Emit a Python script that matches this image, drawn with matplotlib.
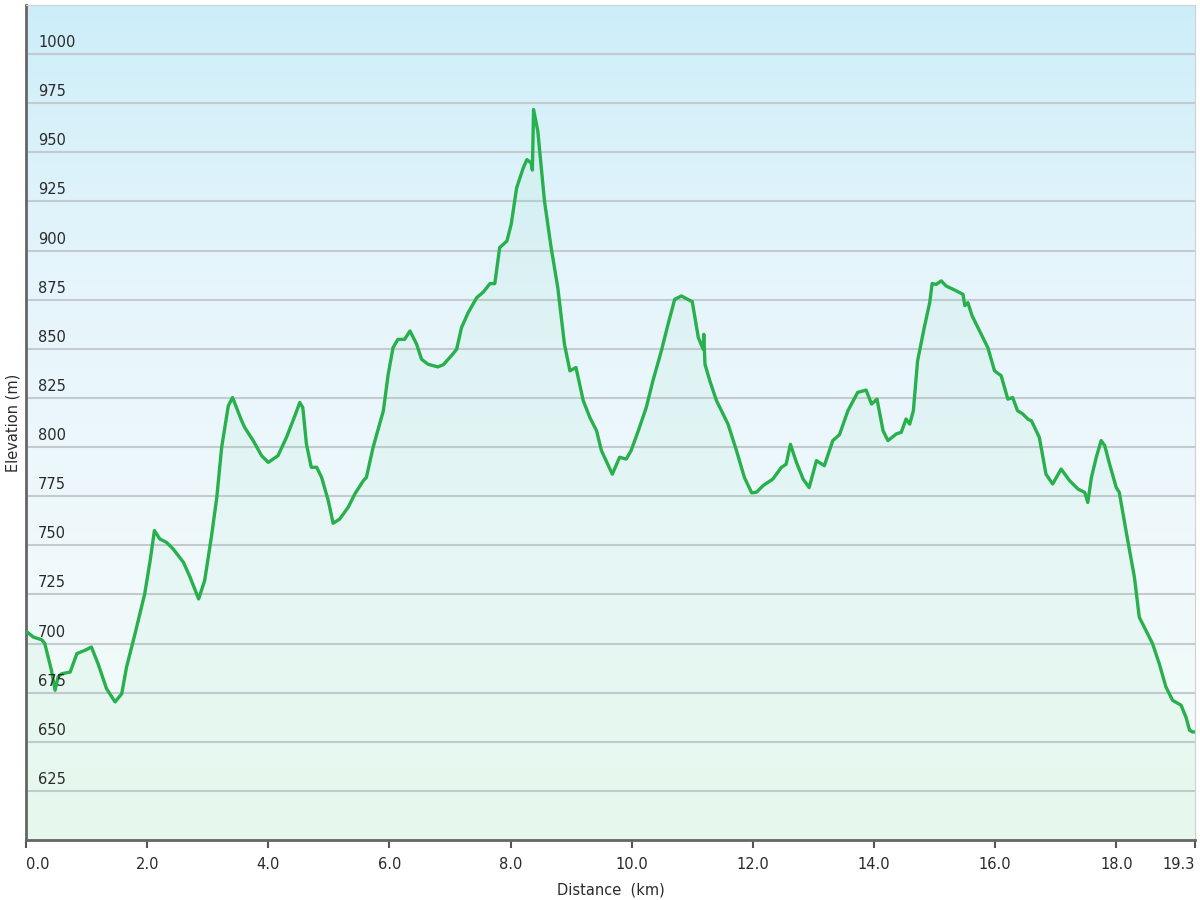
import numpy as np
import matplotlib.pyplot as plt
from matplotlib.colors import LinearSegmentedColormap

# distance along the route (km) and elevation (m)
dist = [0.00, 0.02, 0.12, 0.26, 0.31, 0.42, 0.48, 0.53, 0.59, 0.73, 0.84, 0.97, 1.08,
        1.19, 1.33, 1.47, 1.58, 1.66, 1.80, 1.96, 2.05, 2.12, 2.21, 2.32, 2.43, 2.60,
        2.71, 2.85, 2.95, 3.06, 3.15, 3.23, 3.34, 3.41, 3.56, 3.61, 3.75, 3.89, 4.00,
        4.16, 4.30, 4.44, 4.52, 4.57, 4.63, 4.71, 4.80, 4.88, 4.99, 5.07, 5.18, 5.32,
        5.43, 5.57, 5.62, 5.73, 5.90, 5.98, 6.06, 6.14, 6.25, 6.34, 6.45, 6.53, 6.64,
        6.80, 6.89, 7.02, 7.11, 7.19, 7.30, 7.44, 7.55, 7.66, 7.74, 7.82, 7.94, 8.01,
        8.10, 8.21, 8.27, 8.34, 8.36, 8.38, 8.45, 8.56, 8.67, 8.78, 8.89, 8.98, 9.08,
        9.20, 9.31, 9.42, 9.50, 9.68, 9.80, 9.91, 9.99, 10.10, 10.24, 10.35, 10.49,
        10.60, 10.71, 10.82, 11.00, 11.10, 11.18, 11.19, 11.21, 11.29, 11.40, 11.59,
        11.73, 11.86, 11.98, 12.06, 12.17, 12.33, 12.47, 12.55, 12.62, 12.72, 12.83,
        12.93, 13.05, 13.18, 13.32, 13.43, 13.57, 13.73, 13.87, 13.96, 14.05, 14.15,
        14.23, 14.37, 14.45, 14.53, 14.59, 14.65, 14.72, 14.83, 14.92, 14.96, 15.03,
        15.11, 15.19, 15.36, 15.47, 15.50, 15.55, 15.62, 15.77, 15.88, 15.99, 16.10,
        16.21, 16.29, 16.37, 16.45, 16.55, 16.60, 16.73, 16.84, 16.95, 17.09, 17.23,
        17.37, 17.48, 17.53, 17.59, 17.67, 17.75, 17.81, 17.89, 18.00, 18.05, 18.19,
        18.30, 18.38, 18.49, 18.60, 18.71, 18.82, 18.93, 19.07, 19.15, 19.21, 19.26, 19.30]
elev = [706, 705.8, 703.3, 701.9, 700, 686.4, 676.2, 683, 684.6, 685.5, 694.9, 696.5, 698.2,
        689.7, 677, 670.3, 674.4, 688, 705, 725.3, 742.3, 757.5, 753.2, 751.5, 748.1, 741.3,
        733.7, 722.7, 732.1, 754.1, 774.4, 799.8, 821, 825.2, 813.4, 810, 803.3, 795.6, 792.2,
        795.6, 804.9, 816, 822.7, 820.1, 801.5, 789.7, 789.7, 784.6, 772.8, 761.2, 763.4, 769.4,
        776.2, 782.9, 784.6, 799.8, 818.5, 837.1, 850.6, 854.8, 854.8, 859.1, 852.3, 844.7, 842.1,
        840.8, 841.9, 846.4, 849.8, 860.8, 868.4, 876, 878.9, 883.2, 883.2, 901.5, 904.9, 913.3,
        931.9, 942.1, 946.3, 944.6, 941, 971.8, 960.8, 925.2, 901.5, 881.1, 852.3, 838.8, 840.5,
        823.6, 815, 808.3, 798.2, 786.2, 794.8, 793.9, 798.2, 807.5, 820.1, 833.7, 849,
        862.5, 875.2, 876.9, 874, 855.7, 849.8, 857.4, 842.1, 833.7, 823.6, 811.7,
        798.2, 784.6, 776.7, 777, 780.4, 783.7, 789.6, 791.3, 801.4, 792.2, 783.7,
        779.4, 793.1, 790.5, 803.3, 806.3, 818.5, 827.8, 829, 821.9, 824.4, 808.3,
        803.3, 806.7, 807.5, 814.3, 811.7, 818.5, 843.9, 860.8, 873.5, 883.2, 882.8,
        884.6, 882, 879.5, 877.7, 872, 873.5, 866.8, 857.4, 850.6, 838.8, 836.3,
        824.4, 825.2, 818.5, 817, 814, 813.4, 804.9, 786.2, 781.2, 788.8, 782.9,
        778.6, 776.9, 771.8, 784.6, 794.8, 803.3, 800.7, 791.3, 779.4, 776.9, 752.4,
        733.7, 713.4, 706.7, 699.9, 689.7, 677.9, 671.1, 668.6, 662.6, 655.9, 655, 655]

y_ticks = [625, 650, 675, 700, 725, 750, 775, 800, 825, 850, 875, 900, 925, 950, 975, 1000]
x_ticks = [0, 2, 4, 6, 8, 10, 12, 14, 16, 18, 19.3]
x_labels = ["0.0", "2.0", "4.0", "6.0", "8.0", "10.0", "12.0", "14.0", "16.0", "18.0", "19.3"]

fig = plt.figure(figsize=(12, 9), dpi=100)
ax = fig.add_axes([26 / 1200, 60 / 900, 1169 / 1200, 835 / 900])
ax.set_xlim(0, 19.3)
ax.set_ylim(600, 1025)

# background gradient: light blue at the top, pale green at the bottom
bg = LinearSegmentedColormap.from_list("bg", ["#f0fcf4", "#f0f9fc", "#e6f5fb", "#cdeef9"])
grad = np.linspace(0, 1, 256).reshape(-1, 1)
ax.imshow(grad, cmap=bg, aspect="auto", origin="lower",
          extent=[0, 19.3, 600, 1025], zorder=0)

for v in y_ticks + [1025]:
    ax.axhline(v, color="#c4cbce", lw=1.5, zorder=1)

ax.fill_between(dist, elev, 600, color="#4fd08a", alpha=0.06, lw=0, zorder=2)
ax.plot(dist, elev, color="#27b04b", lw=2.4, zorder=3)

ax.set_yticks([])
for v in y_ticks:
    ax.annotate(str(v), xy=(0, v), xycoords=("axes fraction", "data"),
                xytext=(12, 4), textcoords="offset pixels",
                ha="left", va="bottom", fontsize=10.5, color="#2a2a2a", zorder=4)

ax.set_xticks(x_ticks)
ax.set_xticklabels(x_labels, fontsize=10.5, color="#2a2a2a")
labs = ax.get_xticklabels()
labs[0].set_ha("left")
labs[-1].set_ha("right")
ax.tick_params(axis="x", direction="out", length=6, width=1.5, color="#555555", pad=6)

ax.set_xlabel("Distance  (km)", fontsize=10.5, color="#2a2a2a", labelpad=8)
ax.set_ylabel("Elevation (m)", fontsize=10.5, color="#2a2a2a", labelpad=4)

ax.spines["left"].set_color("#666666")
ax.spines["left"].set_linewidth(2)
ax.spines["bottom"].set_color("#666666")
ax.spines["bottom"].set_linewidth(2)
ax.spines["top"].set_color("#d0d0d0")
ax.spines["right"].set_color("#d0d0d0")

fig.savefig("out.png", dpi=100)
